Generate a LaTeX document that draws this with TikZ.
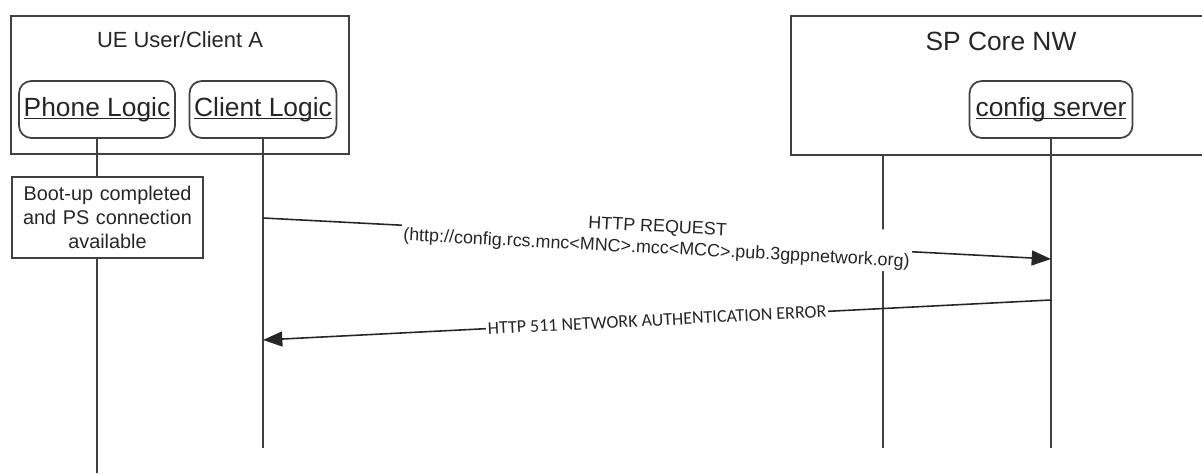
\documentclass[tikz,border=0pt]{standalone}
\usepackage{fontspec}
\setmainfont{Liberation Sans}
\newfontfamily\calibrifont{Carlito}
\usetikzlibrary{arrows.meta,positioning}
\newcommand{\entityname}[1]{\setbox0=\hbox{#1}\rlap{\rule[-1.8pt]{\wd0}{0.75pt}}\box0}

\begin{document}
\begin{tikzpicture}[
    x=0.02cm, y=-0.02cm,
    zonebox/.style={rectangle, draw=black!75, line width=1pt, minimum height=2.77cm, inner sep=0pt},
    zonetitle/.style={text=black!85, inner sep=0pt},
    entity/.style={rectangle, rounded corners=7pt, draw=black!75, line width=1pt, minimum height=1.14cm, inner sep=0pt, text=black!85, font=\fontsize{15}{18}\selectfont},
    notebox/.style={rectangle, draw=black!75, line width=1pt, text width=3.66cm, inner xsep=0.08cm, align=center, minimum height=1.62cm, text=black!85, font=\fontsize{11.3}{13.6}\selectfont},
    lifeline/.style={draw=black!75, line width=1pt},
    message/.style={->, draw=black!85, line width=0.9pt, >={Triangle[length=11pt,width=8.5pt]}},
    msglabel/.style={fill=white, text=black!85, inner xsep=1pt, inner ysep=1pt, align=center}
]
\clip (0,0) rectangle (1202,473);

% Domains
\node[zonebox, minimum width=6.76cm] (ue) at (180,85) {};
\node[zonetitle, font=\fontsize{12.5}{15}\selectfont] (ue-title) at (180,40) {UE User/Client A};
\node[zonebox, minimum width=8.38cm] (sp) at (1000.5,85.5) {};
\node[zonetitle, font=\fontsize{15}{18}\selectfont] (sp-title) at (1001,41) {SP Core NW};

% Entities
\node[entity, minimum width=3.12cm] (phone) at (97,109.5) {\entityname{Phone Logic}};
\node[entity, minimum width=2.94cm] (client) at (263,109.5) {\entityname{Client Logic}};
\node[entity, minimum width=3.26cm] (config) at (1051,109.5) {\entityname{config server}};

% Note on the phone lifeline
\node[notebox] (boot) at (107.5,217.5) {Boot-up completed\\and PS connection\\available};

% Lifelines
\coordinate (phone-end) at (97,473);
\coordinate (client-end) at (263,448);
\coordinate (core-end) at (883,448);
\coordinate (config-end) at (1051,448);

\draw[lifeline] (phone.south) -- (phone.south |- boot.north);
\draw[lifeline] (phone.south |- boot.south) -- (phone-end);
\draw[lifeline] (client.south) -- (client-end);
\draw[lifeline] (sp.south -| core-end) -- (core-end);
\draw[lifeline] (config.south) -- (config-end);

% Messages
\coordinate (req-from) at (263,218);
\coordinate (req-to) at (1051,259);
\coordinate (err-from) at (1051,300);
\coordinate (err-to) at (263,340);

\draw[message] (req-from) -- node[msglabel, sloped, font=\fontsize{10.2}{12.4}\selectfont] (req-label) {HTTP REQUEST\\(http://config.rcs.mnc<MNC>.mcc<MCC>.pub.3gppnetwork.org)} (req-to);
\draw[message] (err-from) -- node[msglabel, sloped, inner ysep=0pt, font=\calibrifont\fontsize{10.25}{12}\selectfont] (err-label) {HTTP 511 NETWORK AUTHENTICATION ERROR} (err-to);

\end{tikzpicture}
\end{document}
